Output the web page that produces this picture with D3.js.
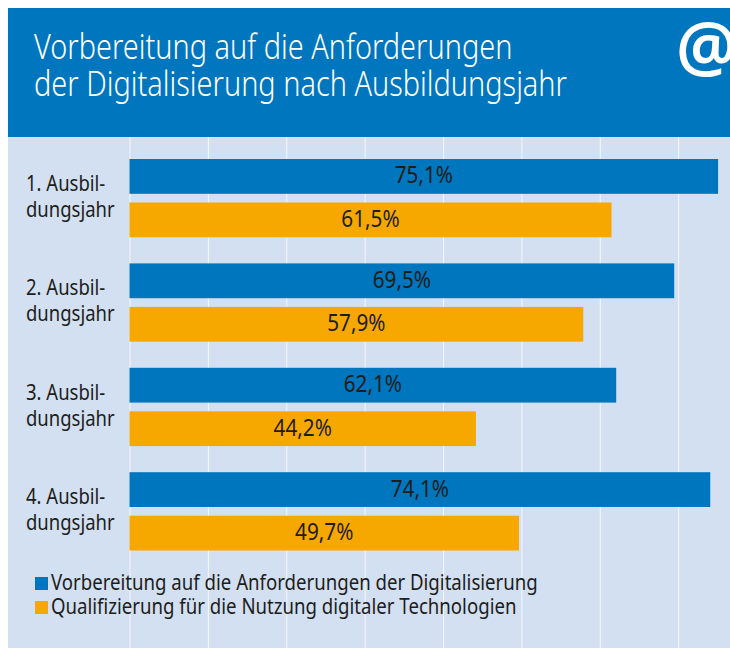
<!DOCTYPE html>
<html>
<head>
<meta charset="utf-8">
<script src="https://cdn.jsdelivr.net/npm/d3@7"></script>
<style>
  body { margin: 0; background: #fff; }
  svg { display: block; }
  text { font-family: "Noto Sans", sans-serif; }
</style>
</head>
<body>
<svg width="730" height="648"></svg>
<script>
const titleLines = ["Vorbereitung auf die Anforderungen", "der Digitalisierung nach Ausbildungsjahr"];
const years = [["1. Ausbil-", "dungsjahr"], ["2. Ausbil-", "dungsjahr"], ["3. Ausbil-", "dungsjahr"], ["4. Ausbil-", "dungsjahr"]];
const seriesNames = ["Vorbereitung auf die Anforderungen der Digitalisierung", "Qualifizierung für die Nutzung digitaler Technologien"];
const prep = [75.1, 69.5, 62.1, 74.1];
const qual = [61.5, 57.9, 44.2, 49.7];
const gridTicks = [0, 10, 20, 30, 40, 50, 60, 70];

const colors = ["#0076be", "#f7a800"];
const svg = d3.select("svg");

// the original uses a condensed face, so squeeze the text horizontally
const squeeze = (sel, k) => sel.each(function() {
  this.setAttribute("textLength", this.getComputedTextLength() * k);
  this.setAttribute("lengthAdjust", "spacingAndGlyphs");
});

// background
svg.append("rect").attr("x", 8).attr("y", 137).attr("width", 722).attr("height", 511).attr("fill", "#d3e0f1");
svg.append("rect").attr("x", 8).attr("y", 8).attr("width", 722).attr("height", 129).attr("fill", "#0076be");

const x = d3.scaleLinear().domain([0, 80]).range([129.5, 756.5]);
const y = d3.scaleBand().domain(d3.range(years.length)).range([159, 550.5]).paddingInner(0.25);
const ySub = d3.scaleBand().domain([0, 1]).range([0, y.bandwidth()]).paddingInner(0.2);

// gridlines
const grid = svg.append("g")
  .attr("transform", "translate(0,648)")
  .call(d3.axisBottom(x).tickValues(gridTicks).tickSize(-511).tickFormat(""));
grid.select(".domain").remove();
grid.selectAll("line").attr("stroke", "#f4f7fb").attr("stroke-width", 1);

// bars
const groups = svg.selectAll(".year").data(years).enter().append("g")
  .attr("class", "year")
  .attr("transform", (d, i) => `translate(0,${y(i)})`);

[prep, qual].forEach((values, s) => {
  groups.append("rect")
    .attr("x", x(0))
    .attr("y", ySub(s))
    .attr("width", (d, i) => x(values[i]) - x(0))
    .attr("height", ySub.bandwidth())
    .attr("fill", colors[s]);
  groups.append("text")
    .attr("class", "val")
    .attr("x", (d, i) => (x(0) + x(values[i])) / 2)
    .attr("y", ySub(s) + ySub.bandwidth() / 2 + 7)
    .attr("text-anchor", "middle")
    .attr("font-size", 23)
    .attr("fill", "#1d1d1b")
    .text((d, i) => values[i].toFixed(1).replace(".", ",") + "%");
});
squeeze(svg.selectAll(".val"), 0.9);

// category labels
groups.each(function(d) {
  d3.select(this).selectAll(".cat").data(d).enter().append("text")
    .attr("class", "cat")
    .attr("x", 26)
    .attr("y", (t, j) => 32 + j * 26)
    .attr("font-size", 21)
    .attr("fill", "#1d1d1b")
    .text(t => t);
});
squeeze(svg.selectAll(".cat"), 0.88);

// title
svg.selectAll(".title").data(titleLines).enter().append("text")
  .attr("class", "title")
  .attr("x", 34)
  .attr("y", (d, i) => 59 + i * 37)
  .attr("font-size", 34)
  .attr("font-weight", 300)
  .attr("fill", "#fff")
  .text(d => d);
squeeze(svg.selectAll(".title"), 0.85);

svg.append("text")
  .attr("x", 676)
  .attr("y", 71)
  .attr("font-size", 68)
  .attr("font-weight", 600)
  .attr("fill", "#fff")
  .text("@");

// legend
const legend = svg.selectAll(".legend").data(seriesNames).enter().append("g")
  .attr("class", "legend")
  .attr("transform", (d, i) => `translate(35,${589 + i * 24})`);
legend.append("rect").attr("x", 0).attr("y", -12).attr("width", 13).attr("height", 13).attr("fill", (d, i) => colors[i]);
const legendText = legend.append("text").attr("x", 16).attr("y", 1).attr("font-size", 21.5).attr("fill", "#1d1d1b").text(d => d);
squeeze(legendText, 0.866);
</script>
</body>
</html>
